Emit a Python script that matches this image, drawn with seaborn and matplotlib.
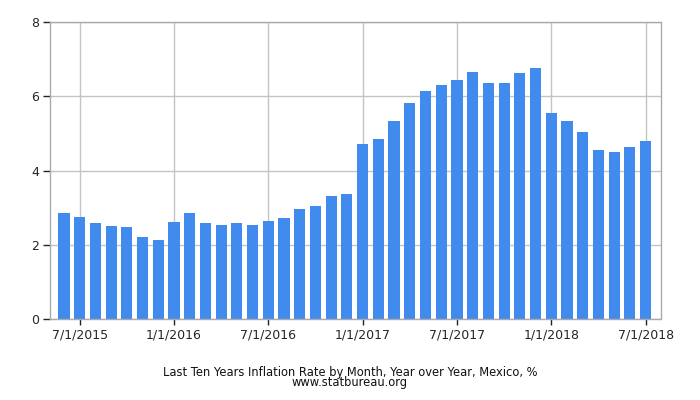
import pandas as pd
import matplotlib
matplotlib.use('Agg')
import matplotlib.pyplot as plt
import seaborn as sns

# monthly year-over-year inflation, Mexico, Jun 2015 - Jul 2018
months = pd.date_range('2015-06-01', '2018-07-01', freq='MS')
rates = [2.87, 2.74, 2.59, 2.52, 2.48, 2.21, 2.13,
         2.61, 2.87, 2.60, 2.54, 2.60, 2.54, 2.65, 2.73, 2.97, 3.06, 3.31, 3.36,
         4.72, 4.86, 5.35, 5.82, 6.16, 6.31, 6.44, 6.66, 6.35, 6.37, 6.63, 6.77,
         5.55, 5.34, 5.04, 4.55, 4.51, 4.65, 4.81]
tick_labels = ['7/1/2015', '1/1/2016', '7/1/2016', '1/1/2017',
               '7/1/2017', '1/1/2018', '7/1/2018']
y_ticks = [0, 2, 4, 6, 8]

df = pd.DataFrame({'Month': months, 'Rate': rates})
df['Label'] = df['Month'].dt.strftime('%Y-%m')

sns.set_style('white')
plt.rcParams['font.family'] = ['DejaVu Sans']

fig = plt.figure(figsize=(7, 4), dpi=100)
ax = fig.add_axes([50 / 700, 1 - 319 / 400, 610.5 / 700, (319 - 22.3) / 400])

sns.barplot(data=df, x='Label', y='Rate', color='#428bee', saturation=1,
            width=0.71, linewidth=0, ax=ax, zorder=2)

# tick positions: first of Jan / Jul in the month index
tick_pos = [i for i, m in enumerate(df['Month']) if m.month in (1, 7)]
ax.set_xticks(tick_pos)
ax.set_xticklabels(tick_labels, fontsize=9)
ax.set_yticks(y_ticks)
ax.set_yticklabels([str(t) for t in y_ticks], fontsize=9)
ax.set_xlim(-0.89, len(df) - 1 + 0.95)
ax.set_ylim(0, 8)

ax.grid(True, color='#c4c4c4', linewidth=1, zorder=0)
ax.set_axisbelow(True)
for s in ax.spines.values():
    s.set_color('#aaaaaa')
    s.set_linewidth(1)
ax.tick_params(axis='both', which='both', length=5, width=1, color='#222222',
               direction='out', left=True, bottom=True, pad=3)
ax.tick_params(axis='x', length=4)
ax.set_xlabel('')
ax.set_ylabel('')

caption = 'Last Ten Years Inflation Rate by Month, Year over Year, Mexico, %\nwww.statbureau.org'
fig.text(0.5, 1 - 377.5 / 400, caption, ha='center', va='center', fontsize=8.3,
         color='#111111', linespacing=0.78, multialignment='center')

fig.savefig('out.png', dpi=100)
